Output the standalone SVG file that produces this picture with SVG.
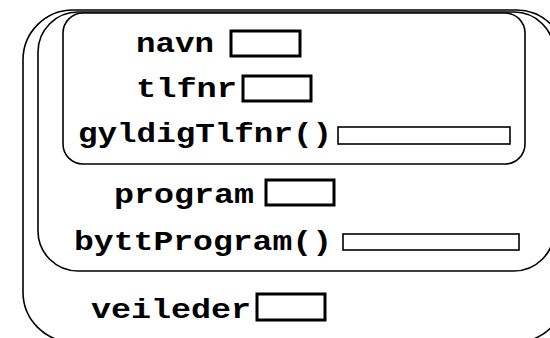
<svg xmlns="http://www.w3.org/2000/svg" width="550" height="338" viewBox="0 0 550 338">
<style>
.frame{fill:none;stroke:#000;stroke-width:1.6}
.t{font-family:"Liberation Mono","Courier New",monospace;font-weight:bold;font-size:28px;fill:#000}
.fld{fill:#fff;stroke:#000;stroke-width:3}
.mth{fill:#fff;stroke:#000;stroke-width:1.6}
</style>
<rect width="550" height="338" fill="#fff"/>
<g id="veileder-obj">
<rect class="frame" x="23" y="10" width="543" height="332" rx="50" ry="50"/>
<text class="t" x="91" y="318" textLength="160" lengthAdjust="spacingAndGlyphs">veileder</text>
<rect class="fld" x="257" y="294" width="68" height="26"/>
</g>
<g id="program-obj">
<rect class="frame" x="38" y="12" width="516" height="259" rx="40" ry="40"/>
<text class="t" x="114" y="203" textLength="140" lengthAdjust="spacingAndGlyphs">program</text>
<rect class="fld" x="266" y="180" width="68" height="25"/>
<text class="t" x="74" y="250" textLength="258" lengthAdjust="spacingAndGlyphs">byttProgram()</text>
<rect class="mth" x="343" y="234" width="176" height="16"/>
</g>
<g id="person-obj">
<rect class="frame" x="63" y="13" width="462" height="151" rx="20" ry="20"/>
<text class="t" x="136" y="52" textLength="78" lengthAdjust="spacingAndGlyphs">navn</text>
<rect class="fld" x="231" y="31" width="69" height="25"/>
<text class="t" x="136" y="97" textLength="101" lengthAdjust="spacingAndGlyphs">tlfnr</text>
<rect class="fld" x="243" y="76" width="68" height="25"/>
<text class="t" x="78" y="142" textLength="254" lengthAdjust="spacingAndGlyphs">gyldigTlfnr()</text>
<rect class="mth" x="338" y="127" width="172" height="17"/>
</g>
<g id="connectors"/>
</svg>
